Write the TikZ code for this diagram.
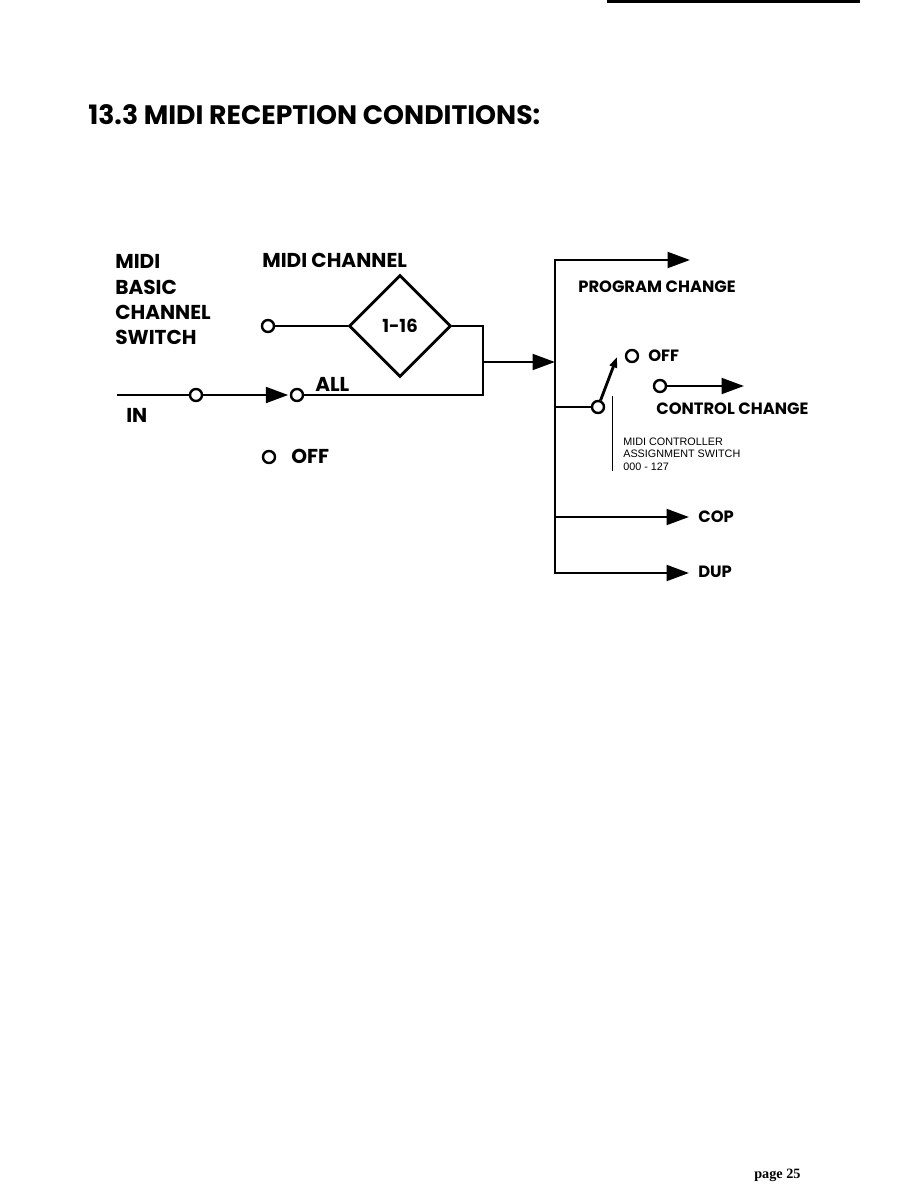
\documentclass[tikz,border=0pt]{standalone}
\usepackage{fontspec}
\setmainfont{Poppins}
\newfontfamily\ctlfont{Liberation Sans}
\newfontfamily\pagefont{Liberation Serif}
\usetikzlibrary{arrows.meta,positioning,shapes.geometric}

\begin{document}
\begin{tikzpicture}[
  x=0.6667pt, y=-0.6667pt,
  wire/.style={line width=1.9pt},
  flow/.style={wire, -{Triangle[length=15pt,width=10.5pt]}},
  pin/.style={circle, draw, line width=1.6pt, fill=white,
              minimum size=8pt, inner sep=0pt},
  chbox/.style={diamond, draw, line width=1.9pt, aspect=1,
                minimum size=68pt, inner sep=0pt,
                font=\bfseries\fontsize{12}{14}\selectfont},
  head/.style={anchor=base west, inner sep=0pt,
               font=\bfseries\fontsize{17.8}{21}\selectfont},
  lbl/.style={anchor=base west, inner sep=0pt,
              font=\bfseries\fontsize{13.4}{16}\selectfont},
  outlbl/.style={anchor=base west, inner sep=0pt,
              font=\bfseries\fontsize{10.9}{13}\selectfont},
  note/.style={anchor=base west, inner sep=0pt,
               font=\ctlfont\fontsize{7.2}{8.6}\selectfont},
]
\useasboundingbox (0,0) rectangle (918,1188);

% Page rule and heading
\draw[line width=1.4pt] (607,1.5) -- (860,1.5);
\node[head] (title) at (88,125) {13.3 MIDI RECEPTION CONDITIONS:};

% Left labels
\node[lbl] (lMidi)  at (115,268) {MIDI};
\node[lbl] (lBasic) at (115,294) {BASIC};
\node[lbl] (lChan)  at (115,319) {CHANNEL};
\node[lbl] (lSw)    at (115,344) {SWITCH};
\node[lbl] (lIn)    at (126,422) {IN};
\node[lbl] (lMch)   at (262,267) {MIDI CHANNEL};

% Basic channel switch
\coordinate (inEnd) at (117,395);
\node[pin] (inPin)  at (196,395) {};
\node[pin] (allPin) at (297,395) {};
\node[pin] (chPin)  at (268,326) {};
\node[pin] (offPin) at (269,457) {};
\node[chbox] (chBox) at (400,326) {1-16};
\node[lbl] (lAll) at (315,391) {ALL};
\node[lbl] (lOff) at (291,463) {OFF};

\coordinate (jOut) at (483,395);
\coordinate (jMid) at (483,362);

\draw[wire] (inEnd) -- (inPin);
\draw[flow, shorten >=1pt] (inPin) -- (allPin);
\draw[wire] (chPin) -- (chBox.west);
\draw[wire] (chBox.east) -| (jOut) -- (allPin);

% Bus
\coordinate (busTop) at (555,260);
\coordinate (busMid) at (555,362);
\coordinate (busCc)  at (555,407);
\coordinate (busCop) at (555,517);
\coordinate (busBot) at (555,573);
\coordinate (prgEnd) at (690,260);
\coordinate (copEnd) at (689,517);
\coordinate (dupEnd) at (689,573);

\draw[flow] (jMid) -- (busMid);
\draw[wire, {Triangle[length=15pt,width=10.5pt]}-{Triangle[length=15pt,width=10.5pt]}]
  (dupEnd) -- (busBot) -- (busTop) -- (prgEnd);
\draw[flow] (busCop) -- (copEnd);

\node[outlbl] (lPrg) at (578,292) {PROGRAM CHANGE};
\node[outlbl] (lCop) at (698,522) {COP};
\node[outlbl] (lDup) at (698,577) {DUP};

% Controller switch
\node[pin] (ccSw)   at (598,407) {};
\node[pin] (ccOff)  at (632,356) {};
\node[pin] (ccPin)  at (660,386) {};
\coordinate (lever) at (617,357);
\coordinate (ccEnd) at (744,386);

\draw[wire] (busCc) -- (ccSw);
\draw[wire, -{Triangle[length=7pt,width=5pt]}] (ccSw) -- (lever);
\draw[flow] (ccPin) -- (ccEnd);

\node[outlbl] (lCcOff) at (648,361) {OFF};
\node[outlbl] (lCc) at (656,414) {CONTROL CHANGE};

% Assignment note
\draw[line width=0.6pt] (612,396) -- (612,471);
\node[note] (n1) at (623,445) {MIDI CONTROLLER};
\node[note] (n2) at (623,457) {ASSIGNMENT SWITCH};
\node[note] (n3) at (623,470) {000 - 127};

% Page number
\node[anchor=base west, inner sep=0pt, font=\pagefont\bfseries\fontsize{9.5}{11}\selectfont]
  (pg) at (754,1178) {page 25};

\end{tikzpicture}
\end{document}
